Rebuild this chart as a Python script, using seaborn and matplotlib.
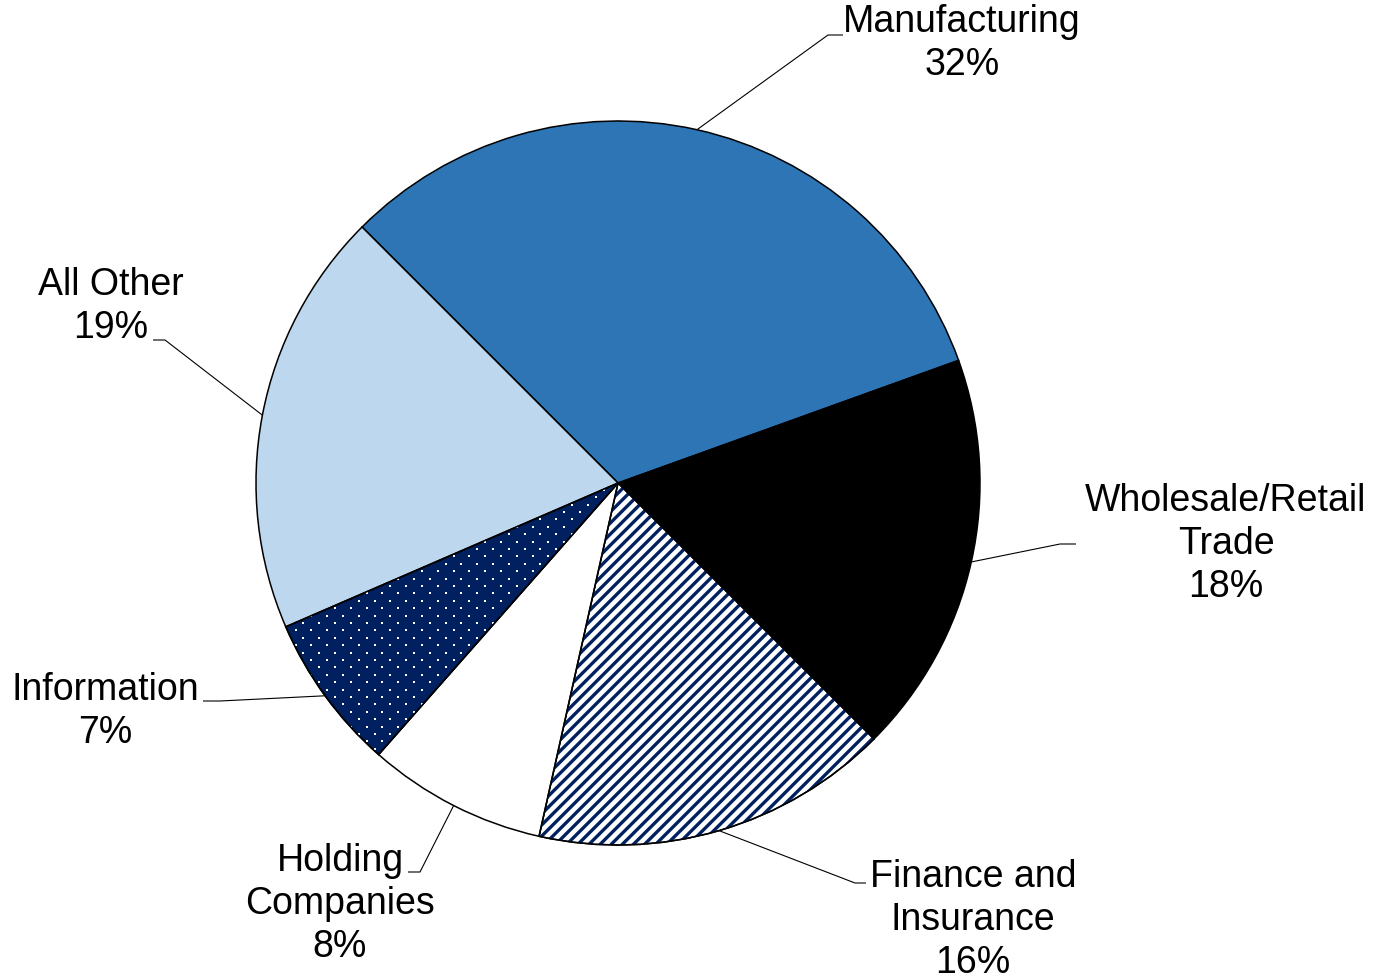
import numpy as np
import matplotlib
matplotlib.use("Agg")
import matplotlib.pyplot as plt
from matplotlib.patches import Wedge
import seaborn as sns

# Share of total by industry (percent)
sectors = ["Manufacturing", "Wholesale/Retail\nTrade", "Finance and\nInsurance",
           "Holding\nCompanies", "Information", "All Other"]
shares = [32, 18, 16, 8, 7, 19]

NAVY = "#002060"
colors = ["#2E75B6", "#000000", "#FFFFFF", "#FFFFFF", NAVY, "#BDD7EE"]
# fill texture per slice: "stripes", "dots" or None
textures = [None, None, "stripes", None, "dots", None]

# Label layout in pixel space (y measured from the top)
label_xy = [(962, 44), (1226, 544), (973, 920), (340, 904), (105, 712), (111, 307)]
elbow_xy = [(828, 36), (1060, 545), (855, 884), (420, 873), (220, 702), (165, 341)]
leader_end_x = [843, 1076, 866, 408, 203, 153]

W, H = 1376, 978
sns.set_theme(style="white")
plt.rcParams["font.family"] = ["Liberation Sans", "DejaVu Sans"]

fig = plt.figure(figsize=(W / 100, H / 100), dpi=100)
ax = fig.add_axes([0, 0, 1, 1])

cx, cy, R = 618, H - 484, 362
start = 135

wedges, _ = ax.pie(shares, colors=colors, startangle=start, counterclock=False,
                   center=(cx, cy), radius=R, frame=True,
                   wedgeprops=dict(edgecolor="black", linewidth=1.1))
ax.set_xlim(0, W)
ax.set_ylim(0, H)
ax.set_aspect("equal")
ax.axis("off")

for w, tex in zip(wedges, textures):
    if tex is None:
        continue
    z = w.get_zorder()
    if tex == "stripes":
        with plt.rc_context({"hatch.linewidth": 2.4}):
            over = Wedge((cx, cy), R, w.theta1, w.theta2, fill=False, hatch="///",
                         edgecolor=NAVY, linewidth=0, zorder=z + 0.1)
        if hasattr(over, "set_hatch_linewidth"):
            over.set_hatch_linewidth(2.4)
        ax.add_patch(over)
    else:
        # staggered grid of small white dots, clipped to the slice
        clip = Wedge((cx, cy), R, w.theta1, w.theta2, fill=False, linewidth=0)
        ax.add_patch(clip)
        dx, dy = 15.8, 7.4
        rows = np.arange(cy - R, cy + R, dy)
        px, py = [], []
        for j, yy in enumerate(rows):
            xs = np.arange(cx - R + (j % 2) * dx / 2, cx + R, dx)
            px.extend(xs)
            py.extend([yy] * len(xs))
        dots = ax.scatter(px, py, s=4.0, marker="s", color="white",
                          linewidths=0, zorder=z + 0.1)
        dots.set_clip_path(clip)
    edge = Wedge((cx, cy), R, w.theta1, w.theta2, fill=False,
                 edgecolor="black", linewidth=1.1, zorder=z + 0.2)
    ax.add_patch(edge)

# Labels with leader lines from the middle of each slice's rim
for w, name, v, (lx, ly), (ex, ey), endx in zip(wedges, sectors, shares,
                                                label_xy, elbow_xy, leader_end_x):
    mid = np.deg2rad((w.theta1 + w.theta2) / 2)
    sx, sy = cx + R * np.cos(mid), cy + R * np.sin(mid)
    ax.plot([sx, ex, endx], [sy, H - ey, H - ey], color="black", lw=0.8,
            solid_capstyle="butt", zorder=5)
    ax.text(lx, H - ly, f"{name}\n{v}%", ha="center", va="center",
            multialignment="center", fontsize=27, color="black",
            linespacing=1.25, zorder=6)

fig.savefig("out.png", dpi=100, facecolor="white")
